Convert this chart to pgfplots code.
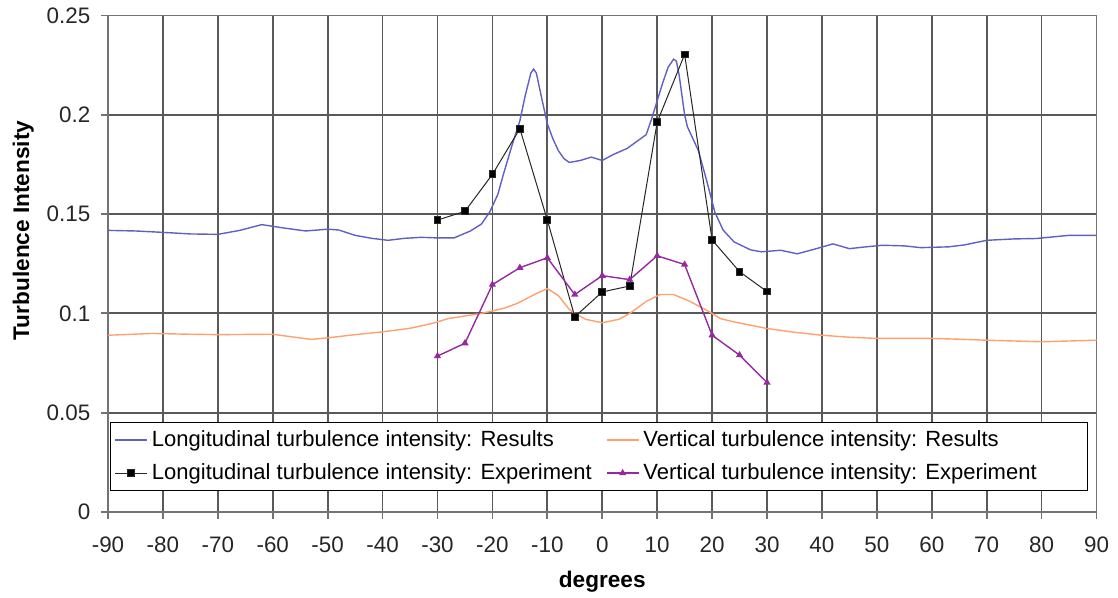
\documentclass[border=0pt]{standalone}
\usepackage{fontspec}
\setmainfont{Liberation Sans}
\usepackage{pgfplots}
\pgfplotsset{compat=1.18}
\definecolor{longres}{RGB}{96,96,196}
\definecolor{vertres}{RGB}{255,160,110}
\definecolor{vertexp}{RGB}{150,40,160}

\begin{document}
\begin{tikzpicture}
\begin{axis}[
  name=ax,
  scale only axis,
  width=494.25pt, height=248.25pt,
  xmin=-90, xmax=90, ymin=0, ymax=0.25,
  xtick={-90,-80,...,90},
  ytick={0,0.05,0.1,0.15,0.2,0.25},
  yticklabels={0,0.05,0.1,0.15,0.2,0.25},
  grid=major,
  major grid style={black!65, line width=0.9pt},
  axis line style={black!55, line width=0.9pt},
  tick style={black!55, line width=0.9pt},
  tick align=outside,
  major tick length=3.3pt,
  xtick pos=bottom, ytick pos=left,
  /pgf/number format/assume math mode=true,
  tick label style={font=\fontsize{11.2}{13}\selectfont, text=black!85},
  yticklabel style={xshift=-2pt},
  xticklabel style={yshift=-5.5pt},
  xlabel={degrees}, ylabel={Turbulence Intensity},
  label style={font=\fontsize{11.3}{13}\selectfont\bfseries},
  xlabel style={at={(axis description cs:0.5,0)}, anchor=base, yshift=-38pt},
  ylabel style={at={(axis description cs:-0.0857,0.567)}, anchor=center},
  legend columns=2,
  legend cell align=left,
  legend style={at={(0.002,0.181)}, anchor=north west, draw=black, line width=0.6pt,
    fill=white, font=\fontsize{11}{13}\selectfont, inner sep=2pt,
    row sep=3pt, /tikz/every even column/.append style={column sep=0pt}},
  legend image code/.code={\draw[#1, mark repeat=2, mark phase=2] plot coordinates {(0pt,0pt) (8pt,0pt) (16pt,0pt)};},
  every axis plot/.append style={line width=0.7pt},
]
% longitudinal, results
\addplot[color=longres, mark=none] table {
-90 0.1418
-85 0.1415
-80 0.1408
-75 0.1400
-70 0.1398
-66 0.1418
-62 0.1447
-58 0.1430
-54 0.1415
-50 0.1424
-48 0.1420
-45 0.1393
-42 0.1378
-39 0.1368
-36 0.1378
-33 0.1383
-30 0.1380
-27 0.1380
-24 0.1415
-22 0.1450
-20.5 0.151
-19 0.160
-18 0.170
-16.5 0.184
-15 0.197
-14 0.210
-13 0.221
-12.5 0.223
-12 0.221
-11 0.208
-10 0.1955
-9 0.188
-8 0.182
-7 0.178
-6 0.176
-4 0.177
-2 0.1787
0 0.177
2 0.180
4.5 0.183
6 0.186
8 0.190
9 0.198
10 0.207
11 0.216
12 0.224
13 0.228
13.5 0.227
14 0.220
15 0.200
15.5 0.194
17.5 0.182
19 0.167
20.5 0.151
22 0.142
24 0.136
27 0.132
29 0.131
32.5 0.1318
35.5 0.130
39 0.1326
42 0.135
45 0.1326
48 0.1335
51 0.1343
55 0.1340
58 0.1331
63 0.1335
66 0.1345
70 0.1368
75 0.1375
79 0.1377
82 0.1385
85 0.1393
90 0.1393
};
\addlegendentry{\makebox[225pt][l]{Longitudinal turbulence intensity: Results}}

% vertical, results
\addplot[color=vertres, mark=none] table {
-90 0.0890
-82 0.0899
-75 0.0895
-70 0.0893
-60 0.0895
-56 0.0880
-53 0.0869
-49 0.0880
-45 0.0893
-40 0.0907
-35 0.0925
-31 0.0949
-28 0.0974
-22 0.1000
-18 0.1025
-15.5 0.1050
-12 0.1100
-10 0.1125
-8 0.1090
-6 0.1020
-5 0.1000
-3 0.0970
0 0.0953
3 0.0970
5 0.1000
8 0.1060
10.5 0.1095
13 0.1095
16 0.1060
19 0.1016
21.5 0.0974
24 0.0957
30 0.0924
35 0.0905
40 0.0890
45 0.0880
50 0.0874
60 0.0874
65 0.0870
70 0.0865
80 0.0857
90 0.0865
};
\addlegendentry{\makebox[218pt][l]{Vertical turbulence intensity: Results}}

% longitudinal, experiment
\addplot[color=black!85, line width=0.5pt, mark=square*, mark size=1.7pt, mark options={fill=black}] table {
-30 0.147
-25 0.1514
-20 0.170
-15 0.193
-10 0.147
-5 0.0983
0 0.1108
5 0.1138
10 0.1963
15 0.2304
20 0.137
25 0.121
30 0.111
};
\addlegendentry{Longitudinal turbulence intensity: Experiment}

% vertical, experiment
\addplot[color=vertexp, mark=triangle*, mark size=1.4pt] table {
-30 0.0785
-25 0.0850
-20 0.1145
-15 0.1230
-10 0.1280
-5 0.1095
0 0.1190
5 0.1170
10 0.1290
15 0.1246
20 0.0890
25 0.0790
30 0.0652
};
\addlegendentry{Vertical turbulence intensity: Experiment}
\end{axis}
\pgfresetboundingbox
\path ([shift={(-54pt,-43pt)}]ax.south west) rectangle ([shift={(10.75pt,7.75pt)}]ax.north east);
\end{tikzpicture}
\end{document}
